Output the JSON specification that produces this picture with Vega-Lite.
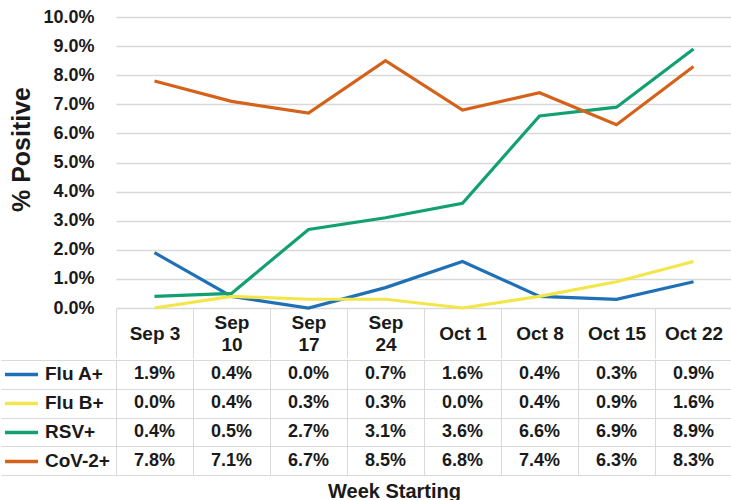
{
  "$schema": "https://vega.github.io/schema/vega-lite/v6.json",
  "padding": {"left": 0, "top": 8, "right": 0, "bottom": 0},
  "background": "white",
  "spacing": 0,
  "config": {"font": "Liberation Sans", "view": {"stroke": null}},
  "datasets": {
    "d": [
      {"week": "Sep 3", "series": "Flu A+", "value": 0.019},
      {"week": "Sep 10", "series": "Flu A+", "value": 0.004},
      {"week": "Sep 17", "series": "Flu A+", "value": 0.0},
      {"week": "Sep 24", "series": "Flu A+", "value": 0.007},
      {"week": "Oct 1", "series": "Flu A+", "value": 0.016},
      {"week": "Oct 8", "series": "Flu A+", "value": 0.004},
      {"week": "Oct 15", "series": "Flu A+", "value": 0.003},
      {"week": "Oct 22", "series": "Flu A+", "value": 0.009},
      {"week": "Sep 3", "series": "Flu B+", "value": 0.0},
      {"week": "Sep 10", "series": "Flu B+", "value": 0.004},
      {"week": "Sep 17", "series": "Flu B+", "value": 0.003},
      {"week": "Sep 24", "series": "Flu B+", "value": 0.003},
      {"week": "Oct 1", "series": "Flu B+", "value": 0.0},
      {"week": "Oct 8", "series": "Flu B+", "value": 0.004},
      {"week": "Oct 15", "series": "Flu B+", "value": 0.009},
      {"week": "Oct 22", "series": "Flu B+", "value": 0.016},
      {"week": "Sep 3", "series": "RSV+", "value": 0.004},
      {"week": "Sep 10", "series": "RSV+", "value": 0.005},
      {"week": "Sep 17", "series": "RSV+", "value": 0.027},
      {"week": "Sep 24", "series": "RSV+", "value": 0.031},
      {"week": "Oct 1", "series": "RSV+", "value": 0.036},
      {"week": "Oct 8", "series": "RSV+", "value": 0.066},
      {"week": "Oct 15", "series": "RSV+", "value": 0.069},
      {"week": "Oct 22", "series": "RSV+", "value": 0.089},
      {"week": "Sep 3", "series": "CoV-2+", "value": 0.078},
      {"week": "Sep 10", "series": "CoV-2+", "value": 0.071},
      {"week": "Sep 17", "series": "CoV-2+", "value": 0.067},
      {"week": "Sep 24", "series": "CoV-2+", "value": 0.085},
      {"week": "Oct 1", "series": "CoV-2+", "value": 0.068},
      {"week": "Oct 8", "series": "CoV-2+", "value": 0.074},
      {"week": "Oct 15", "series": "CoV-2+", "value": 0.063},
      {"week": "Oct 22", "series": "CoV-2+", "value": 0.083}
    ]
  },
  "resolve": {
    "scale": {"x": "independent", "color": "independent"},
    "legend": {"color": "independent"}
  },
  "vconcat": [
    {
      "width": 616,
      "height": 291,
      "data": {"name": "d"},
      "mark": {"type": "line", "strokeWidth": 3.2},
      "encoding": {
        "x": {
          "field": "week",
          "type": "ordinal",
          "sort": ["Sep 3", "Sep 10", "Sep 17", "Sep 24", "Oct 1", "Oct 8", "Oct 15", "Oct 22"],
          "scale": {"type": "band", "paddingInner": 0, "paddingOuter": 0},
          "axis": {
            "title": null,
            "orient": "bottom",
            "tickBand": "extent",
            "tickSize": 50,
            "tickColor": "#d9d9d9",
            "tickWidth": 1,
            "domainColor": "#d9d9d9",
            "labelFontSize": 19,
            "labelFontWeight": "bold",
            "labelColor": "#1a1a1a",
            "labelPadding": {
              "condition": {"test": "indexof(datum.label, 'Sep ') == 0 && length(datum.label) == 6", "value": -36},
              "value": -25
            },
            "labelBaseline": "middle",
            "labelLineHeight": 22,
            "labelAngle": 0,
            "labelOverlap": false,
            "labelExpr": "indexof(datum.label, 'Sep ') == 0 && length(datum.label) == 6 ? split(datum.label, ' ') : datum.label",
            "grid": false
          }
        },
        "y": {
          "field": "value",
          "type": "quantitative",
          "scale": {"domain": [0, 0.1], "nice": false},
          "axis": {
            "values": [0, 0.01, 0.02, 0.03, 0.04, 0.05, 0.06, 0.07, 0.08, 0.09, 0.1],
            "format": ".1%",
            "ticks": false,
            "domain": false,
            "gridColor": "#d9d9d9",
            "gridWidth": 1.5,
            "labelFontSize": 18,
            "labelFontWeight": "bold",
            "labelColor": "#1a1a1a",
            "labelPadding": 22,
            "labelFlush": false,
            "title": "% Positive",
            "titleFontSize": 25,
            "titleFontWeight": "bold",
            "titleColor": "#1a1a1a",
            "titlePadding": 8,
            "titleY": 132
          }
        },
        "color": {
          "field": "series",
          "type": "nominal",
          "scale": {
            "domain": ["Flu A+", "Flu B+", "RSV+", "CoV-2+"],
            "range": ["#1f70b6", "#f2e64a", "#12a070", "#d4621b"]
          },
          "legend": null
        }
      }
    },
    {
      "width": 616,
      "height": 115,
      "data": {"name": "d"},
      "encoding": {
        "x": {
          "field": "week",
          "type": "ordinal",
          "sort": ["Sep 3", "Sep 10", "Sep 17", "Sep 24", "Oct 1", "Oct 8", "Oct 15", "Oct 22"],
          "scale": {"type": "band", "paddingInner": 0, "paddingOuter": 0},
          "axis": {
            "orient": "bottom",
            "labels": false,
            "ticks": false,
            "domainColor": "#d9d9d9",
            "grid": true,
            "tickBand": "extent",
            "gridColor": "#d9d9d9",
            "title": "Week Starting",
            "titleFontSize": 20,
            "titleFontWeight": "bold",
            "titleColor": "#1a1a1a",
            "titlePadding": 6,
            "titleX": 278
          }
        },
        "y": {
          "field": "series",
          "type": "nominal",
          "sort": ["Flu A+", "Flu B+", "RSV+", "CoV-2+"],
          "scale": {"type": "band", "paddingInner": 0, "paddingOuter": 0},
          "axis": {
            "orient": "left",
            "labels": false,
            "ticks": true,
            "tickBand": "extent",
            "tickSize": 115,
            "tickColor": "#d9d9d9",
            "domainColor": "#d9d9d9",
            "grid": true,
            "gridColor": "#d9d9d9",
            "title": null
          }
        }
      },
      "layer": [
        {
          "mark": {"type": "text", "fontSize": 18, "fontWeight": "bold", "color": "#1a1a1a", "baseline": "middle"},
          "encoding": {"text": {"field": "value", "type": "quantitative", "format": ".1%"}}
        },
        {
          "mark": {"type": "point", "opacity": 0},
          "encoding": {
            "color": {
              "field": "series",
              "type": "nominal",
              "scale": {
                "domain": ["Flu A+", "Flu B+", "RSV+", "CoV-2+"],
                "range": ["#1f70b6", "#f2e64a", "#12a070", "#d4621b"]
              },
              "legend": {
                "orient": "none",
                "legendX": -113,
                "legendY": 0,
                "title": null,
                "symbolType": "stroke",
                "symbolSize": 1089,
                "symbolStrokeWidth": 3.5,
                "symbolOpacity": 1,
                "symbolFillColor": "transparent",
                "clipHeight": 28.75,
                "rowPadding": 0,
                "padding": 0,
                "labelFontSize": 19,
                "labelFontWeight": "bold",
                "labelColor": "#1a1a1a",
                "labelOffset": 5
              }
            }
          }
        }
      ]
    }
  ]
}
